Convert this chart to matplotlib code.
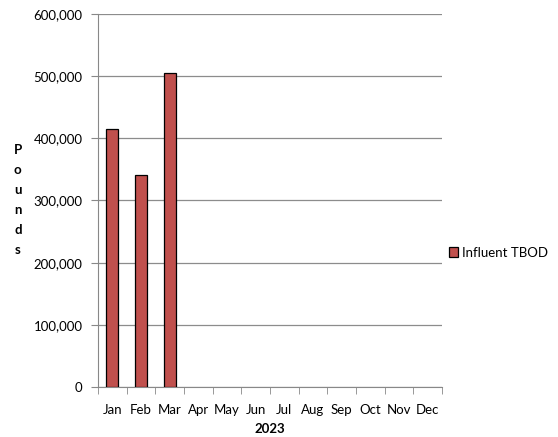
import matplotlib.pyplot as plt
import numpy as np

months = ['Jan', 'Feb', 'Mar', 'Apr', 'May', 'Jun', 'Jul', 'Aug', 'Sep', 'Oct', 'Nov', 'Dec']
tbod = [415000, 341000, 505000, 0, 0, 0, 0, 0, 0, 0, 0, 0]
yticks = [0, 100000, 200000, 300000, 400000, 500000, 600000]

plt.rcParams['font.family'] = ['Lato', 'DejaVu Sans']

fig = plt.figure(figsize=(5.58, 4.37), dpi=100)
ax = fig.add_axes([0.1756, 0.1144, 0.6165, 0.8536])

x = np.arange(len(months))
shown = [v if v > 0 else np.nan for v in tbod]
ax.bar(x, shown, width=0.42, color='#c0504d', edgecolor='black', linewidth=0.9,
       label='Influent TBOD', zorder=3)

ax.set_xlim(-0.5, len(months) - 0.5)
ax.set_ylim(0, 600000)
ax.set_yticks(yticks)
ax.set_yticklabels([f'{v:,}' for v in yticks], fontsize=9.5)
ax.set_xticks(x)
ax.set_xticklabels(months, fontsize=9.5)
ax.set_xticks(np.arange(-0.5, len(months)), minor=True)
ax.tick_params(axis='x', which='major', length=0, pad=12)
ax.tick_params(axis='x', which='minor', length=5, color='#888888', direction='out')
ax.tick_params(axis='y', length=5, color='#888888', direction='out', pad=6)

ax.grid(axis='y', color='#8c8c8c', linewidth=0.9, zorder=0)
for s in ['top', 'right']:
    ax.spines[s].set_visible(False)
ax.spines['left'].set_color('#888888')
ax.spines['bottom'].set_color('#888888')

ax.set_xlabel('2023', fontsize=9.5, fontweight='bold', labelpad=5)
fig.text(0.032, 0.542, 'P\no\nu\nn\nd\ns', fontsize=9.5, fontweight='bold',
         ha='center', va='center', linespacing=1.8)

ax.legend(loc='center left', bbox_to_anchor=(1.005, 0.36), frameon=False,
          borderaxespad=0, fontsize=9.5, handlelength=0.7, handleheight=0.7,
          handletextpad=0.3)

fig.savefig('out.png', dpi=100)
